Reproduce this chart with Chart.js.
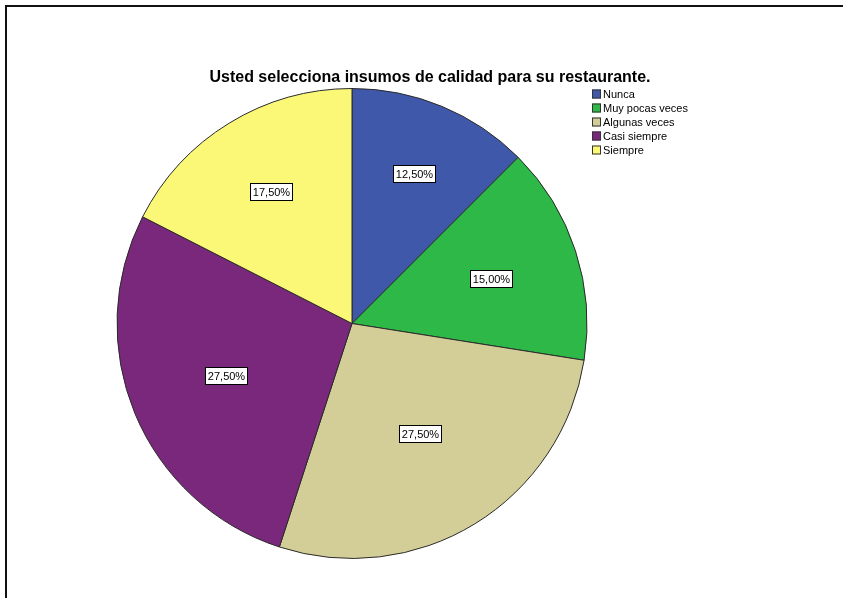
<!DOCTYPE html>
<html>
<head>
<meta charset="utf-8">
<title>Usted selecciona insumos de calidad para su restaurante.</title>
<script src="https://cdn.jsdelivr.net/npm/chart.js@4.4.1/dist/chart.umd.min.js"></script>
<style>
    body { margin: 0; background: #fff; }
    #wrap { position: relative; width: 843px; height: 598px; overflow: hidden; }
    #frame {
        position: absolute; left: 5px; top: 5px; width: 900px; height: 700px;
        border-top: 2px solid #111; border-left: 2px solid #111;
    }
    #chart { position: absolute; left: 0; top: 0; }
</style>
</head>
<body>
<div id="wrap">
    <div id="frame"></div>
    <canvas id="chart" width="843" height="598"></canvas>
</div>
<script>
var chartTitle = 'Usted selecciona insumos de calidad para su restaurante.';
var categories = ['Nunca', 'Muy pocas veces', 'Algunas veces', 'Casi siempre', 'Siempre'];
var percentages = [12.5, 15.0, 27.5, 27.5, 17.5];
var sliceColors = ['#3F58AA', '#2EB848', '#D3CE97', '#7A287C', '#FBF878'];

// how far out along the middle of each slice its label sits (share of radius)
var labelDistance = [0.69, 0.62, 0.55, 0.58, 0.66];

function formatPct(v) {
    return v.toFixed(2).replace('.', ',') + '%';
}

// title, legend and value boxes drawn over the pie
var decorations = {
    id: 'decorations',
    afterDraw: function (chart) {
        var ctx = chart.ctx;
        ctx.save();

        // title
        ctx.fillStyle = '#000';
        ctx.font = 'bold 16px "Liberation Sans", Arial, sans-serif';
        ctx.textAlign = 'center';
        ctx.textBaseline = 'alphabetic';
        ctx.fillText(chartTitle, 430, 82);

        // legend
        ctx.font = '11px "Liberation Sans", Arial, sans-serif';
        ctx.textAlign = 'left';
        ctx.textBaseline = 'middle';
        for (var i = 0; i < categories.length; i++) {
            var y = 94 + i * 14;
            ctx.fillStyle = sliceColors[i];
            ctx.fillRect(592, y - 4.5, 9, 9);
            ctx.strokeStyle = '#333';
            ctx.lineWidth = 1;
            ctx.strokeRect(592.5, y - 4, 8, 8);
            ctx.fillStyle = '#000';
            ctx.fillText(categories[i], 603, y + 0.5);
        }

        // percentage boxes
        var meta = chart.getDatasetMeta(0);
        ctx.textAlign = 'center';
        meta.data.forEach(function (arc, idx) {
            var p = arc.getProps(['x', 'y', 'startAngle', 'endAngle', 'outerRadius'], true);
            var mid = (p.startAngle + p.endAngle) / 2;
            var r = p.outerRadius * labelDistance[idx];
            var cx = p.x + Math.cos(mid) * r;
            var cy = p.y + Math.sin(mid) * r;
            var txt = formatPct(percentages[idx]);
            var w = Math.round(ctx.measureText(txt).width) + 5;
            var h = 17;
            var bx = Math.round(cx - w / 2) + 0.5;
            var by = Math.round(cy - h / 2) + 0.5;
            ctx.fillStyle = '#fff';
            ctx.fillRect(bx, by, w, h);
            ctx.strokeStyle = '#000';
            ctx.strokeRect(bx, by, w, h);
            ctx.fillStyle = '#000';
            ctx.fillText(txt, bx + w / 2, by + h / 2 + 0.5);
        });

        ctx.restore();
    }
};

var ctx = document.getElementById('chart').getContext('2d');
var pieChart = new Chart(ctx, {
    type: 'pie',
    data: {
        labels: categories,
        datasets: [{
            data: percentages,
            backgroundColor: sliceColors,
            borderColor: '#2a2a2a',
            borderWidth: 1
        }]
    },
    options: {
        responsive: false,
        animation: false,
        radius: 235,
        layout: {
            padding: { left: 117, top: 88, right: 256, bottom: 39 }
        },
        plugins: {
            legend: { display: false },
            title: { display: false },
            tooltip: { enabled: false }
        },
        events: []
    },
    plugins: [decorations]
});
</script>
</body>
</html>
